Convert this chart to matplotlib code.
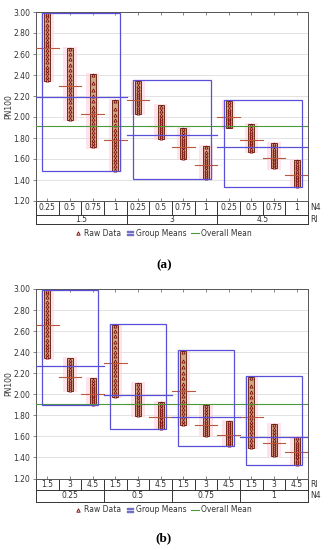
import matplotlib
matplotlib.use("Agg")
import matplotlib.pyplot as plt
from matplotlib.lines import Line2D
from matplotlib.patches import Rectangle
from matplotlib.transforms import blended_transform_factory
import numpy as np

# ---------------- data ----------------
RI_levels = ["1.5", "3", "4.5"]
N4_levels = ["0.25", "0.5", "0.75", "1"]

# raw PN100 values, per RI level, each list of 4 groups (N4 = 0.25, 0.5, 0.75, 1)
raw_ri15 = [
    [2.35, 2.38, 2.42, 2.45, 2.48, 2.52, 2.56, 2.60, 2.64, 2.68, 2.70, 2.72, 2.76, 2.80, 2.84, 2.88, 2.92, 2.96, 2.98],
    [1.98, 2.02, 2.06, 2.10, 2.14, 2.18, 2.22, 2.26, 2.29, 2.32, 2.36, 2.40, 2.45, 2.50, 2.55, 2.60, 2.65],
    [1.72, 1.75, 1.78, 1.82, 1.86, 1.90, 1.94, 1.98, 2.02, 2.06, 2.10, 2.15, 2.20, 2.26, 2.32, 2.40],
    [1.50, 1.53, 1.57, 1.60, 1.64, 1.68, 1.71, 1.74, 1.77, 1.80, 1.84, 1.88, 1.92, 1.97, 2.02, 2.08, 2.15],
]
raw_ri3 = [
    [2.04, 2.06, 2.08, 2.10, 2.12, 2.14, 2.16, 2.18, 2.20, 2.22, 2.24, 2.27, 2.30, 2.33],
    [1.80, 1.82, 1.84, 1.86, 1.88, 1.90, 1.91, 1.93, 1.95, 1.97, 1.99, 2.02, 2.06, 2.10],
    [1.61, 1.63, 1.65, 1.67, 1.69, 1.71, 1.72, 1.74, 1.76, 1.78, 1.80, 1.83, 1.86, 1.89],
    [1.42, 1.44, 1.46, 1.48, 1.50, 1.52, 1.54, 1.55, 1.57, 1.59, 1.61, 1.64, 1.67, 1.71],
]
raw_ri45 = [
    [1.91, 1.92, 1.93, 1.95, 1.96, 1.98, 1.99, 2.00, 2.02, 2.04, 2.06, 2.08, 2.11, 2.14],
    [1.68, 1.70, 1.72, 1.73, 1.75, 1.76, 1.78, 1.79, 1.81, 1.83, 1.85, 1.87, 1.90, 1.92],
    [1.52, 1.54, 1.55, 1.57, 1.58, 1.60, 1.61, 1.62, 1.64, 1.66, 1.68, 1.70, 1.72, 1.74],
    [1.34, 1.36, 1.38, 1.40, 1.41, 1.43, 1.44, 1.46, 1.47, 1.49, 1.51, 1.53, 1.55, 1.58],
]
# group means (cell means), per RI level over N4
mean_ri15 = [2.66, 2.30, 2.03, 1.78]
mean_ri3 = [2.16, 1.91, 1.71, 1.54]
mean_ri45 = [2.00, 1.78, 1.61, 1.45]
# top-level means
mean_by_RI = [2.19, 1.83, 1.71]
mean_by_N4 = [2.27, 1.99, 1.78, 1.59]
overall_mean = 1.91

raw_all = [raw_ri15, raw_ri3, raw_ri45]
mean_all = [mean_ri15, mean_ri3, mean_ri45]

# ---------------- style ----------------
BLUE = "#5a50d8"
BOXEDGE = "#6a3018"
BOXFILL = "#d4a486"
GLOW = "#ffd0de"
MEANC = "#b8583c"
MARK = "#7a0808"
GREEN = "#4a9a3a"
GRAY = "#555555"
FS = 5.5

fig = plt.figure(figsize=(3.28, 5.5), dpi=100)
W, H = 328.0, 550.0


def panel(rect, order, row1_h, row2_h, outer_labels, inner_labels, outer_name, inner_name, outer_means):
    ax = fig.add_axes(rect)
    n_out, n_in = len(outer_labels), len(inner_labels)
    ncat = n_out * n_in
    ax.set_xlim(0, ncat)
    ax.set_ylim(1.2, 3.0)
    ax.set_yticks(np.arange(1.2, 3.001, 0.2))
    ax.set_yticklabels([f"{v:.2f}" for v in np.arange(1.2, 3.001, 0.2)], fontsize=FS, color="#333333")
    ax.yaxis.grid(True, color="#dddddd", lw=0.6)
    ax.set_axisbelow(True)
    ax.set_xticks(np.arange(ncat) + 0.5)
    ax.set_xticklabels([])
    ax.tick_params(axis="x", direction="in", length=2, top=True, color=GRAY, width=0.5)
    ax.tick_params(axis="y", direction="out", length=2, color=GRAY, width=0.5, pad=2)
    for s in ax.spines.values():
        s.set_color(GRAY)
        s.set_linewidth(0.7)
    ax.set_ylabel("PN100", fontsize=FS, color="#333333")
    ax.yaxis.set_label_coords(-0.082, 0.5)

    for gi in range(n_out):
        vals_group = []
        for ii in range(n_in):
            ri, n4 = order(gi, ii)
            vals = raw_all[ri][n4]
            m = mean_all[ri][n4]
            vals_group += vals
            x = gi * n_in + ii + 0.5
            lo, hi = min(vals) - 0.01, max(vals) + 0.01
            ax.add_patch(Rectangle((x - 0.3, lo - 0.01), 0.6, hi - lo + 0.02, facecolor=GLOW,
                                   edgecolor="none", alpha=0.6, zorder=2))
            ax.add_patch(Rectangle((x - 0.13, lo), 0.26, hi - lo, facecolor=BOXFILL,
                                   edgecolor=BOXEDGE, lw=0.7, zorder=3))
            ax.plot([x] * len(vals), vals, ls="none", marker="^", ms=2.2, mfc="#f0d0c0",
                    mec=MARK, mew=0.6, zorder=4)
            ax.plot([x - 0.5, x + 0.5], [m, m], color=MEANC, lw=0.8, zorder=5)
        x0 = gi * n_in + 0.5 - 0.22
        x1 = gi * n_in + n_in - 0.5 + 0.22
        lo, hi = min(vals_group) - 0.01, min(max(vals_group) + 0.02, 2.995)
        ax.add_patch(Rectangle((x0, lo), x1 - x0, hi - lo, facecolor="none", edgecolor=BLUE,
                               lw=0.9, zorder=6))
        ax.plot([gi * n_in, gi * n_in + n_in], [outer_means[gi]] * 2, color=BLUE, lw=0.9, zorder=6)
    ax.axhline(overall_mean, color=GREEN, lw=0.8, zorder=5)

    # table below axes
    tr = blended_transform_factory(ax.transData, ax.transAxes)
    y1 = -row1_h
    y2 = -row1_h - row2_h
    kw = dict(transform=tr, clip_on=False, color="#333333", lw=0.7)
    ax.plot([0, ncat], [y1, y1], **kw)
    ax.plot([0, ncat], [y2, y2], **kw)
    for k in range(ncat + 1):
        top_only = (k % n_in != 0)
        ax.plot([k, k], [0, y1 if top_only else y2], **kw)
    for k in range(ncat):
        ax.text(k + 0.5, -row1_h / 2, inner_labels[k % n_in], transform=tr, ha="center",
                va="center", fontsize=FS, color="#333333")
    for g in range(n_out):
        ax.text(g * n_in + n_in / 2, y1 - row2_h / 2, outer_labels[g], transform=tr, ha="center",
                va="center", fontsize=FS, color="#333333")
    ax.text(1.01, -row1_h / 2, inner_name, transform=ax.transAxes, ha="left", va="center",
            fontsize=FS, color="#333333")
    ax.text(1.01, y1 - row2_h / 2, outer_name, transform=ax.transAxes, ha="left", va="center",
            fontsize=FS, color="#333333")
    return ax


def legend_at(ycenter):
    handles = [
        Line2D([], [], ls="none", marker="^", ms=2.5, mfc="#f0d0c0", mec=MARK, mew=0.6),
        Line2D([], [], ls="none", marker=r"$=$", ms=5, color="#7070c8"),
        Line2D([], [], color=GREEN, lw=0.8),
    ]
    fig.legend(handles, ["Raw Data", "Group Means", "Overall Mean"], loc="center",
               bbox_to_anchor=(163 / W, 1 - ycenter / H), ncol=3, frameon=False, fontsize=FS,
               handlelength=1.0, handletextpad=0.3, columnspacing=0.6, labelcolor="#333333")


left = 36 / W
width = (308 - 36) / W

# panel (a): RI outer, N4 inner
axa = panel([left, 1 - 201 / H, width, (201 - 12) / H],
            lambda g, i: (g, i), 14 / 189, 9 / 189,
            RI_levels, N4_levels, "RI", "N4", mean_by_RI)
legend_at(233)
fig.text(164 / W, 1 - 265 / H, "(a)", ha="center", va="center", fontsize=9.5,
         family="Liberation Serif", weight="bold")

# panel (b): N4 outer, RI inner
axb = panel([left, 1 - 478.5 / H, width, (478.5 - 289) / H],
            lambda g, i: (i, g), 11.5 / 189.5, 11.5 / 189.5,
            N4_levels, RI_levels, "N4", "RI", mean_by_N4)
legend_at(510)
fig.text(164 / W, 1 - 538 / H, "(b)", ha="center", va="center", fontsize=9.5,
         family="Liberation Serif", weight="bold")

fig.savefig("out.png", dpi=100)
